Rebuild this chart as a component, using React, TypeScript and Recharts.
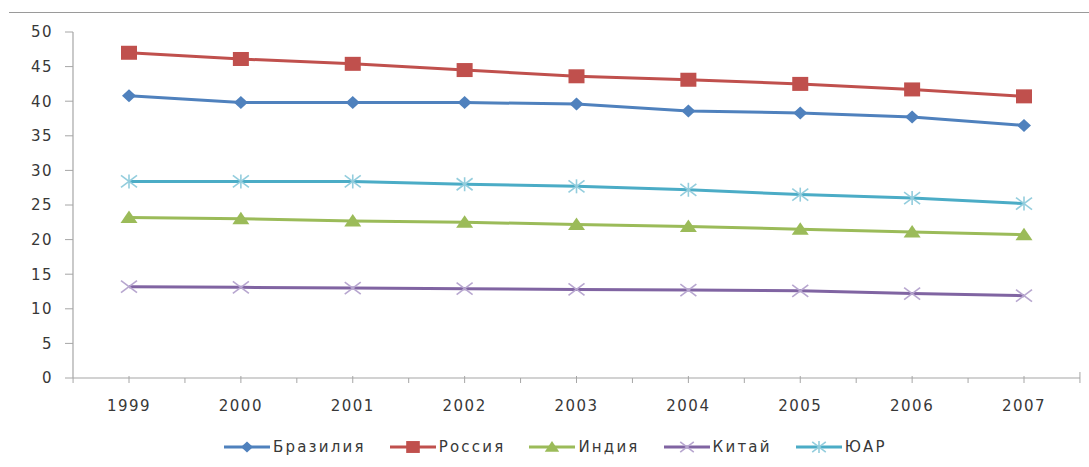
import { LineChart, Line, XAxis, YAxis } from 'recharts'

// --- Data ---

const years = ['1999', '2000', '2001', '2002', '2003', '2004', '2005', '2006', '2007']
const brazil = [40.8, 39.8, 39.8, 39.8, 39.6, 38.6, 38.3, 37.7, 36.5]
const russia = [47.0, 46.1, 45.4, 44.5, 43.6, 43.1, 42.5, 41.7, 40.7]
const india = [23.2, 23.0, 22.7, 22.5, 22.2, 21.9, 21.5, 21.1, 20.7]
const china = [13.2, 13.1, 13.0, 12.9, 12.8, 12.7, 12.6, 12.2, 11.9]
const southAfrica = [28.4, 28.4, 28.4, 28.0, 27.7, 27.2, 26.5, 26.0, 25.2]
const yTicks = [0, 5, 10, 15, 20, 25, 30, 35, 40, 45, 50]

// --- Layout ---

const W = 1089
const H = 467
const PLOT_LEFT = 73
const PLOT_RIGHT = 1080
const PLOT_TOP = 32
const AXIS_Y = 378
const PAD = 56
const STEP = (PLOT_RIGHT - PLOT_LEFT - 2 * PAD) / (years.length - 1)
const FONT = '"DejaVu Sans", sans-serif'
const TEXT = '#383838'
const AXIS = '#a6a6a6'

type MarkerKind = 'diamond' | 'square' | 'triangle' | 'x' | 'star'

const series: { key: string; name: string; values: number[]; color: string; markColor: string; marker: MarkerKind }[] = [
  { key: 'brazil', name: 'Бразилия', values: brazil, color: '#4f81bd', markColor: '#4f81bd', marker: 'diamond' },
  { key: 'russia', name: 'Россия', values: russia, color: '#c0504d', markColor: '#c0504d', marker: 'square' },
  { key: 'india', name: 'Индия', values: india, color: '#9bbb59', markColor: '#9bbb59', marker: 'triangle' },
  { key: 'china', name: 'Китай', values: china, color: '#8064a2', markColor: '#b7a6cf', marker: 'x' },
  { key: 'sa', name: 'ЮАР', values: southAfrica, color: '#4bacc6', markColor: '#93cddd', marker: 'star' },
]

const chartData = years.map((year, i) => {
  const row: Record<string, string | number> = { year }
  series.forEach(s => { row[s.key] = s.values[i] })
  return row
})

// --- Markers ---

const Marker = ({ kind, cx, cy, color, s = 1 }: { kind: MarkerKind; cx: number; cy: number; color: string; s?: number }) => {
  if (kind === 'diamond')
    return <polygon points={`${cx},${cy - 6.5 * s} ${cx + 7 * s},${cy} ${cx},${cy + 6.5 * s} ${cx - 7 * s},${cy}`} fill={color} />
  if (kind === 'square')
    return <rect x={cx - 8 * s} y={cy - 7 * s} width={16 * s} height={14 * s} fill={color} />
  if (kind === 'triangle')
    return <polygon points={`${cx},${cy - 7 * s} ${cx + 8.5 * s},${cy + 5.5 * s} ${cx - 8.5 * s},${cy + 5.5 * s}`} fill={color} />
  const arms = (
    <>
      <line x1={cx - 8 * s} y1={cy - 6 * s} x2={cx + 8 * s} y2={cy + 6 * s} stroke={color} strokeWidth={1.6} />
      <line x1={cx - 8 * s} y1={cy + 6 * s} x2={cx + 8 * s} y2={cy - 6 * s} stroke={color} strokeWidth={1.6} />
    </>
  )
  if (kind === 'x') return <g>{arms}</g>
  return (
    <g>
      {arms}
      <line x1={cx} y1={cy - 7 * s} x2={cx} y2={cy + 7 * s} stroke={color} strokeWidth={1.6} />
    </g>
  )
}

const makeDot = (kind: MarkerKind, color: string) => (props: any) => (
  <Marker key={`${kind}-${props.index}`} kind={kind} cx={props.cx} cy={props.cy} color={color} />
)

// --- Axis ticks ---

const XTick = (props: any) => {
  const { x, y, payload, index } = props
  const last = index === years.length - 1
  return (
    <g>
      <line x1={x} x2={x} y1={y - 2} y2={y + 5} stroke={AXIS} />
      <line x1={x - STEP / 2} x2={x - STEP / 2} y1={y} y2={y + 5} stroke={AXIS} />
      {last && <line x1={x + STEP / 2} x2={x + STEP / 2} y1={y - 6} y2={y + 5} stroke={AXIS} />}
      <text x={x} y={y + 33} textAnchor="middle" fill={TEXT} fontSize={15} fontFamily={FONT} letterSpacing={1.5}>
        {payload.value}
      </text>
    </g>
  )
}

// --- Legend ---

const ChartLegend = () => (
  <div
    style={{
      position: 'absolute',
      top: 437,
      left: 224,
      display: 'flex',
      alignItems: 'center',
      fontFamily: FONT,
      fontSize: 15,
      letterSpacing: 2.2,
      color: TEXT,
    }}
  >
    {series.map(s => (
      <div key={s.key} style={{ display: 'flex', alignItems: 'center', marginRight: 24 }}>
        <svg width={46} height={20} style={{ display: 'block' }}>
          <line x1={0} y1={10} x2={46} y2={10} stroke={s.color} strokeWidth={3} />
          <Marker kind={s.marker} cx={23} cy={10} color={s.markColor} s={0.85} />
        </svg>
        <span style={{ marginLeft: 3, lineHeight: '20px' }}>{s.name}</span>
      </div>
    ))}
  </div>
)

// --- Component ---

export default function App() {
  return (
    <div style={{ position: 'absolute', left: 0, top: 0, width: W, height: H, background: '#fff' }}>
      <div style={{ position: 'absolute', left: 9, top: 12, width: W - 9, borderTop: '1.5px solid #9a9a9a' }} />
      <LineChart
        width={W}
        height={H}
        data={chartData}
        margin={{ top: PLOT_TOP, right: W - PLOT_RIGHT, left: 0, bottom: 0 }}
      >
        <XAxis
          dataKey="year"
          padding={{ left: PAD, right: PAD }}
          height={H - AXIS_Y}
          axisLine={{ stroke: AXIS, strokeWidth: 1.2 }}
          tickLine={false}
          tickSize={0}
          tickMargin={0}
          tick={<XTick />}
          interval={0}
        />
        <YAxis
          width={PLOT_LEFT}
          domain={[0, 50]}
          ticks={yTicks}
          interval={0}
          axisLine={{ stroke: AXIS, strokeWidth: 1.2 }}
          tickLine={{ stroke: AXIS }}
          tickSize={8}
          tickMargin={12}
          tick={{ fill: TEXT, fontSize: 15, fontFamily: FONT, letterSpacing: 1.5 }}
        />
        {series.map(s => (
          <Line
            key={s.key}
            dataKey={s.key}
            name={s.name}
            stroke={s.color}
            strokeWidth={3}
            dot={makeDot(s.marker, s.markColor)}
            activeDot={false}
            isAnimationActive={false}
          />
        ))}
      </LineChart>
      <ChartLegend />
    </div>
  )
}
